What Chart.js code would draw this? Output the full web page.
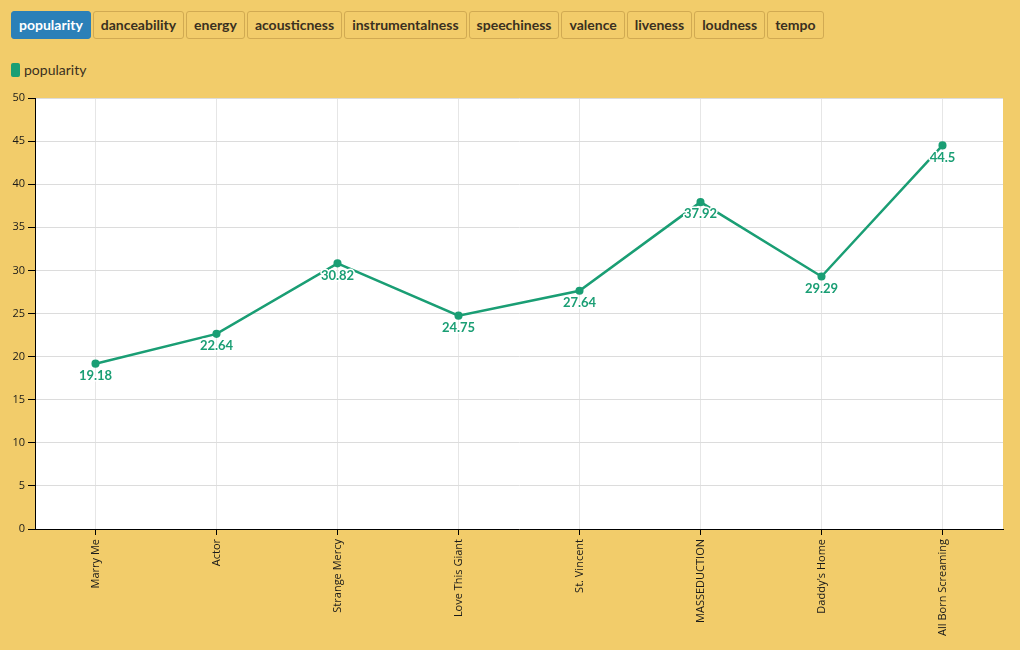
<!DOCTYPE html>
<html><head><meta charset="utf-8">
<script src="https://cdn.jsdelivr.net/npm/chart.js@4"></script>
<style>
html,body{margin:0;padding:0;background:#f2cc6a;width:1020px;height:650px;overflow:hidden;font-family:Lato,"Open Sans",sans-serif;}
#btns{position:absolute;left:11px;top:11px;display:flex;gap:2px;}
.b{height:26px;line-height:26px;padding:0 7px;border:1px solid #d1aa52;border-radius:3px;font-weight:bold;font-size:14px;color:#3a3020;background:#f2cc6a;box-sizing:content-box;}
.b.a{background:#2b80b8;border-color:#2b80b8;color:#fff;}
#leg{position:absolute;left:11px;top:61px;font-size:14px;color:#3a3020;display:flex;align-items:center;}
#leg span.sw{display:inline-block;width:9px;height:14px;background:#1a9e74;border-radius:2px;margin-right:4px;}
#wrap{position:absolute;left:0;top:85px;width:1020px;height:565px;}
</style></head><body>
<div id="btns"></div>
<div id="leg"><span class="sw"></span>popularity</div>
<div id="wrap"><canvas id="c"></canvas></div>
<script>
const tabs = ["popularity","danceability","energy","acousticness","instrumentalness","speechiness","valence","liveness","loudness","tempo"];
const albums = ["Marry Me","Actor","Strange Mercy","Love This Giant","St. Vincent","MASSEDUCTION","Daddy's Home","All Born Screaming"];
const popularity = [19.18,22.64,30.82,24.75,27.64,37.92,29.29,44.5];
const yTicks = [0,5,10,15,20,25,30,35,40,45,50];

const bd = document.getElementById('btns');
tabs.forEach((t,i)=>{const d=document.createElement('div');d.className='b'+(i===0?' a':'');d.textContent=t;bd.appendChild(d);});

const green = '#1a9e74';
const labelPlugin = {
  id:'vlabels',
  afterDatasetsDraw(chart){
    const ctx = chart.ctx;
    const meta = chart.getDatasetMeta(0);
    ctx.save();
    ctx.font = 'bold 13px Lato, "Open Sans", sans-serif';
    ctx.textAlign='center';ctx.textBaseline='middle';
    ctx.lineJoin='round';
    meta.data.forEach((p,i)=>{
      const txt = String(popularity[i]);
      ctx.lineWidth=3;ctx.strokeStyle='#fff';
      ctx.strokeText(txt,p.x,p.y+12);
      ctx.fillStyle=green;
      ctx.fillText(txt,p.x,p.y+12);
    });
    ctx.restore();
  }
};

new Chart(document.getElementById('c'),{
  type:'line',
  data:{labels:albums,datasets:[{label:'popularity',data:popularity,borderColor:green,backgroundColor:green,borderWidth:2.5,pointRadius:2.8,pointHoverRadius:2.8,tension:0}]},
  options:{
    responsive:true,maintainAspectRatio:false,animation:false,
    layout:{padding:{left:0,right:17,top:13,bottom:0}},
    plugins:{legend:{display:false},tooltip:{enabled:false}},
    scales:{
      x:{offset:true,
        grid:{offset:false,color:'#e6e6e6',tickColor:'#000',tickLength:6,drawOnChartArea:true},
        border:{color:'#000',width:1},
        ticks:{color:'#1a1a1a',font:{size:11,family:'"Open Sans", sans-serif'},maxRotation:90,minRotation:90,autoSkip:false,padding:4},
        afterFit(s){s.height=121;}
      },
      y:{min:0,max:50,
        afterBuildTicks(s){s.ticks=yTicks.map(v=>({value:v}));},
        grid:{color:'#dcdcdc',tickColor:'#000',tickLength:7},
        border:{color:'#000',width:1},
        ticks:{color:'#1a1a1a',font:{size:11,family:'"Open Sans", sans-serif'},padding:3},
        afterFit(s){s.width=35;}
      }
    }
  },
  plugins:[labelPlugin,{id:'bgArea',beforeDraw(chart){const {ctx,chartArea:a}=chart;ctx.save();ctx.fillStyle='#fff';ctx.fillRect(a.left,a.top,a.right-a.left,a.bottom-a.top);ctx.restore();}}]
});
</script>
</body></html>
